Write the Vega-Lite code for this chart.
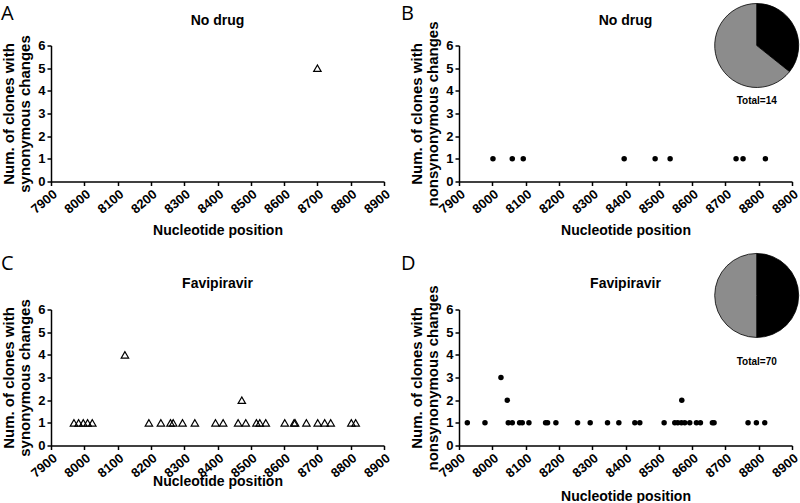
{
  "$schema": "https://vega.github.io/schema/vega-lite/v6.json",
  "background": "white",
  "padding": {"left": 1, "top": 1.5, "right": 0, "bottom": 0},
  "datasets": {
    "syn_nodrug": [{"position": 8700, "clones": 5}],
    "nonsyn_nodrug": [
      {"position": 8002, "clones": 1}, {"position": 8060, "clones": 1}, {"position": 8093, "clones": 1},
      {"position": 8396, "clones": 1}, {"position": 8489, "clones": 1}, {"position": 8534, "clones": 1},
      {"position": 8732, "clones": 1}, {"position": 8753, "clones": 1}, {"position": 8820, "clones": 1}
    ],
    "syn_fav": [
      {"position": 7969, "clones": 1}, {"position": 7983, "clones": 1}, {"position": 7997, "clones": 1},
      {"position": 8010, "clones": 1}, {"position": 8024, "clones": 1}, {"position": 8122, "clones": 4},
      {"position": 8194, "clones": 1}, {"position": 8230, "clones": 1}, {"position": 8259, "clones": 1},
      {"position": 8267, "clones": 1}, {"position": 8295, "clones": 1}, {"position": 8332, "clones": 1},
      {"position": 8394, "clones": 1}, {"position": 8417, "clones": 1}, {"position": 8462, "clones": 1},
      {"position": 8473, "clones": 2}, {"position": 8485, "clones": 1}, {"position": 8517, "clones": 1},
      {"position": 8527, "clones": 1}, {"position": 8545, "clones": 1}, {"position": 8602, "clones": 1},
      {"position": 8630, "clones": 1}, {"position": 8633, "clones": 1}, {"position": 8667, "clones": 1},
      {"position": 8701, "clones": 1}, {"position": 8722, "clones": 1}, {"position": 8740, "clones": 1},
      {"position": 8802, "clones": 1}, {"position": 8815, "clones": 1}
    ],
    "nonsyn_fav": [
      {"position": 7925, "clones": 1}, {"position": 7978, "clones": 1}, {"position": 8026, "clones": 3},
      {"position": 8045, "clones": 2}, {"position": 8048, "clones": 1}, {"position": 8060, "clones": 1},
      {"position": 8082, "clones": 1}, {"position": 8090, "clones": 1}, {"position": 8110, "clones": 1},
      {"position": 8160, "clones": 1}, {"position": 8166, "clones": 1}, {"position": 8191, "clones": 1},
      {"position": 8256, "clones": 1}, {"position": 8294, "clones": 1}, {"position": 8346, "clones": 1},
      {"position": 8380, "clones": 1}, {"position": 8428, "clones": 1}, {"position": 8443, "clones": 1},
      {"position": 8516, "clones": 1}, {"position": 8548, "clones": 1}, {"position": 8557, "clones": 1},
      {"position": 8568, "clones": 1}, {"position": 8569, "clones": 2}, {"position": 8578, "clones": 1},
      {"position": 8593, "clones": 1}, {"position": 8613, "clones": 1}, {"position": 8625, "clones": 1},
      {"position": 8661, "clones": 1}, {"position": 8666, "clones": 1}, {"position": 8768, "clones": 1},
      {"position": 8793, "clones": 1}, {"position": 8818, "clones": 1}
    ],
    "pie_nodrug": [{"kind": "Synonymous", "count": 5, "idx": 1}, {"kind": "Nonsynonymous", "count": 9, "idx": 2}],
    "pie_fav": [{"kind": "Synonymous", "count": 35, "idx": 1}, {"kind": "Nonsynonymous", "count": 35, "idx": 2}]
  },
  "concat": [
    {
      "width": 333, "height": 136,
      "layer": [
        {
          "data": {"name": "syn_nodrug"},
          "mark": {"type": "point", "shape": "triangle-up", "filled": false, "stroke": "black", "strokeWidth": 1.2, "size": 55, "opacity": 1},
          "encoding": {
            "x": {"field": "position", "type": "quantitative", "scale": {"domain": [7900, 8900], "nice": false},
                  "axis": {"values": [7900, 8000, 8100, 8200, 8300, 8400, 8500, 8600, 8700, 8800, 8900], "format": "d", "labelAngle": -40, "labelOverlap": false, "labelFlush": false, "labelFontSize": 13, "labelFontWeight": "bold", "labelColor": "black", "labelPadding": 2, "grid": false, "domainColor": "black", "domainWidth": 1.5, "tickColor": "black", "tickWidth": 1.5, "tickSize": 4, "title": "Nucleotide position", "titleFontSize": 14, "titleFontWeight": "bold", "titleColor": "black", "titlePadding": 7}},
            "y": {"field": "clones", "type": "quantitative", "scale": {"domain": [0, 6], "nice": false},
                  "axis": {"values": [0, 1, 2, 3, 4, 5, 6], "format": "d", "labelOverlap": false, "labelFlush": false, "labelFontSize": 13, "labelFontWeight": "bold", "labelColor": "black", "labelPadding": 2, "grid": false, "domainColor": "black", "domainWidth": 1.5, "tickColor": "black", "tickWidth": 1.5, "tickSize": 4, "title": ["Num. of clones with", "synonymous changes"], "titleFontSize": 15, "titleFontWeight": "bold", "titleColor": "black", "titlePadding": 5, "titleLineHeight": 16}}
          }
        },
        {
          "data": {"values": [{"t": "No drug"}]},
          "mark": {"type": "text", "fontWeight": "bold", "fontSize": 14, "font": "Liberation Sans", "baseline": "middle"},
          "encoding": {"text": {"field": "t"},
            "x": {"datum": 8400, "axis": {"values": [7900, 8000, 8100, 8200, 8300, 8400, 8500, 8600, 8700, 8800, 8900], "format": "d", "labelAngle": -40, "labelOverlap": false, "labelFlush": false, "labelFontSize": 13, "labelFontWeight": "bold", "labelColor": "black", "labelPadding": 2, "grid": false, "domainColor": "black", "domainWidth": 1.5, "tickColor": "black", "tickWidth": 1.5, "tickSize": 4, "title": "Nucleotide position", "titleFontSize": 14, "titleFontWeight": "bold", "titleColor": "black", "titlePadding": 7}},
            "y": {"datum": 7.06, "axis": {"values": [0, 1, 2, 3, 4, 5, 6], "format": "d", "labelOverlap": false, "labelFlush": false, "labelFontSize": 13, "labelFontWeight": "bold", "labelColor": "black", "labelPadding": 2, "grid": false, "domainColor": "black", "domainWidth": 1.5, "tickColor": "black", "tickWidth": 1.5, "tickSize": 4, "title": ["Num. of clones with", "synonymous changes"], "titleFontSize": 15, "titleFontWeight": "bold", "titleColor": "black", "titlePadding": 5, "titleLineHeight": 16}}}
        },
        {
          "data": {"values": [{"t": "A"}]},
          "mark": {"type": "text", "fontSize": 20, "font": "Open Sans", "align": "left", "baseline": "middle"},
          "encoding": {"text": {"field": "t"},
            "x": {"datum": 7750, "axis": {"values": [7900, 8000, 8100, 8200, 8300, 8400, 8500, 8600, 8700, 8800, 8900], "format": "d", "labelAngle": -40, "labelOverlap": false, "labelFlush": false, "labelFontSize": 13, "labelFontWeight": "bold", "labelColor": "black", "labelPadding": 2, "grid": false, "domainColor": "black", "domainWidth": 1.5, "tickColor": "black", "tickWidth": 1.5, "tickSize": 4, "title": "Nucleotide position", "titleFontSize": 14, "titleFontWeight": "bold", "titleColor": "black", "titlePadding": 7}},
            "y": {"datum": 7.41, "axis": {"values": [0, 1, 2, 3, 4, 5, 6], "format": "d", "labelOverlap": false, "labelFlush": false, "labelFontSize": 13, "labelFontWeight": "bold", "labelColor": "black", "labelPadding": 2, "grid": false, "domainColor": "black", "domainWidth": 1.5, "tickColor": "black", "tickWidth": 1.5, "tickSize": 4, "title": ["Num. of clones with", "synonymous changes"], "titleFontSize": 15, "titleFontWeight": "bold", "titleColor": "black", "titlePadding": 5, "titleLineHeight": 16}}}
        }
      ]
    },
    {
      "width": 333, "height": 136,
      "layer": [
        {
          "data": {"name": "nonsyn_nodrug"},
          "mark": {"type": "point", "shape": "circle", "filled": true, "color": "black", "size": 30, "opacity": 1},
          "encoding": {
            "x": {"field": "position", "type": "quantitative", "scale": {"domain": [7900, 8900], "nice": false},
                  "axis": {"values": [7900, 8000, 8100, 8200, 8300, 8400, 8500, 8600, 8700, 8800, 8900], "format": "d", "labelAngle": -40, "labelOverlap": false, "labelFlush": false, "labelFontSize": 13, "labelFontWeight": "bold", "labelColor": "black", "labelPadding": 2, "grid": false, "domainColor": "black", "domainWidth": 1.5, "tickColor": "black", "tickWidth": 1.5, "tickSize": 4, "title": "Nucleotide position", "titleFontSize": 14, "titleFontWeight": "bold", "titleColor": "black", "titlePadding": 7}},
            "y": {"field": "clones", "type": "quantitative", "scale": {"domain": [0, 6], "nice": false},
                  "axis": {"values": [0, 1, 2, 3, 4, 5, 6], "format": "d", "labelOverlap": false, "labelFlush": false, "labelFontSize": 13, "labelFontWeight": "bold", "labelColor": "black", "labelPadding": 2, "grid": false, "domainColor": "black", "domainWidth": 1.5, "tickColor": "black", "tickWidth": 1.5, "tickSize": 4, "title": ["Num. of clones with", "nonsynonymous changes"], "titleFontSize": 15, "titleFontWeight": "bold", "titleColor": "black", "titlePadding": 5, "titleLineHeight": 16}}
          }
        },
        {
          "data": {"name": "pie_nodrug"},
          "mark": {"type": "arc", "outerRadius": 42, "stroke": "black", "strokeWidth": 0.8},
          "encoding": {
            "theta": {"field": "count", "type": "quantitative", "stack": true},
            "order": {"field": "idx", "type": "quantitative"},
            "color": {"field": "kind", "type": "nominal", "scale": {"domain": ["Synonymous", "Nonsynonymous"], "range": ["#000000", "#8c8c8c"]}, "legend": null},
            "x": {"datum": 8794, "axis": {"values": [7900, 8000, 8100, 8200, 8300, 8400, 8500, 8600, 8700, 8800, 8900], "format": "d", "labelAngle": -40, "labelOverlap": false, "labelFlush": false, "labelFontSize": 13, "labelFontWeight": "bold", "labelColor": "black", "labelPadding": 2, "grid": false, "domainColor": "black", "domainWidth": 1.5, "tickColor": "black", "tickWidth": 1.5, "tickSize": 4, "title": "Nucleotide position", "titleFontSize": 14, "titleFontWeight": "bold", "titleColor": "black", "titlePadding": 7}},
            "y": {"datum": 6, "axis": {"values": [0, 1, 2, 3, 4, 5, 6], "format": "d", "labelOverlap": false, "labelFlush": false, "labelFontSize": 13, "labelFontWeight": "bold", "labelColor": "black", "labelPadding": 2, "grid": false, "domainColor": "black", "domainWidth": 1.5, "tickColor": "black", "tickWidth": 1.5, "tickSize": 4, "title": ["Num. of clones with", "nonsynonymous changes"], "titleFontSize": 15, "titleFontWeight": "bold", "titleColor": "black", "titlePadding": 5, "titleLineHeight": 16}}
          }
        },
        {
          "data": {"values": [{"t": "Total=14"}]},
          "mark": {"type": "text", "fontWeight": "bold", "fontSize": 10, "font": "Liberation Sans", "baseline": "middle"},
          "encoding": {"text": {"field": "t"},
            "x": {"datum": 8794, "axis": {"values": [7900, 8000, 8100, 8200, 8300, 8400, 8500, 8600, 8700, 8800, 8900], "format": "d", "labelAngle": -40, "labelOverlap": false, "labelFlush": false, "labelFontSize": 13, "labelFontWeight": "bold", "labelColor": "black", "labelPadding": 2, "grid": false, "domainColor": "black", "domainWidth": 1.5, "tickColor": "black", "tickWidth": 1.5, "tickSize": 4, "title": "Nucleotide position", "titleFontSize": 14, "titleFontWeight": "bold", "titleColor": "black", "titlePadding": 7}},
            "y": {"datum": 3.53, "axis": {"values": [0, 1, 2, 3, 4, 5, 6], "format": "d", "labelOverlap": false, "labelFlush": false, "labelFontSize": 13, "labelFontWeight": "bold", "labelColor": "black", "labelPadding": 2, "grid": false, "domainColor": "black", "domainWidth": 1.5, "tickColor": "black", "tickWidth": 1.5, "tickSize": 4, "title": ["Num. of clones with", "nonsynonymous changes"], "titleFontSize": 15, "titleFontWeight": "bold", "titleColor": "black", "titlePadding": 5, "titleLineHeight": 16}}}
        },
        {
          "data": {"values": [{"t": "No drug"}]},
          "mark": {"type": "text", "fontWeight": "bold", "fontSize": 14, "font": "Liberation Sans", "baseline": "middle"},
          "encoding": {"text": {"field": "t"},
            "x": {"datum": 8400, "axis": {"values": [7900, 8000, 8100, 8200, 8300, 8400, 8500, 8600, 8700, 8800, 8900], "format": "d", "labelAngle": -40, "labelOverlap": false, "labelFlush": false, "labelFontSize": 13, "labelFontWeight": "bold", "labelColor": "black", "labelPadding": 2, "grid": false, "domainColor": "black", "domainWidth": 1.5, "tickColor": "black", "tickWidth": 1.5, "tickSize": 4, "title": "Nucleotide position", "titleFontSize": 14, "titleFontWeight": "bold", "titleColor": "black", "titlePadding": 7}},
            "y": {"datum": 7.06, "axis": {"values": [0, 1, 2, 3, 4, 5, 6], "format": "d", "labelOverlap": false, "labelFlush": false, "labelFontSize": 13, "labelFontWeight": "bold", "labelColor": "black", "labelPadding": 2, "grid": false, "domainColor": "black", "domainWidth": 1.5, "tickColor": "black", "tickWidth": 1.5, "tickSize": 4, "title": ["Num. of clones with", "nonsynonymous changes"], "titleFontSize": 15, "titleFontWeight": "bold", "titleColor": "black", "titlePadding": 5, "titleLineHeight": 16}}}
        },
        {
          "data": {"values": [{"t": "B"}]},
          "mark": {"type": "text", "fontSize": 20, "font": "Open Sans", "align": "left", "baseline": "middle"},
          "encoding": {"text": {"field": "t"},
            "x": {"datum": 7726, "axis": {"values": [7900, 8000, 8100, 8200, 8300, 8400, 8500, 8600, 8700, 8800, 8900], "format": "d", "labelAngle": -40, "labelOverlap": false, "labelFlush": false, "labelFontSize": 13, "labelFontWeight": "bold", "labelColor": "black", "labelPadding": 2, "grid": false, "domainColor": "black", "domainWidth": 1.5, "tickColor": "black", "tickWidth": 1.5, "tickSize": 4, "title": "Nucleotide position", "titleFontSize": 14, "titleFontWeight": "bold", "titleColor": "black", "titlePadding": 7}},
            "y": {"datum": 7.41, "axis": {"values": [0, 1, 2, 3, 4, 5, 6], "format": "d", "labelOverlap": false, "labelFlush": false, "labelFontSize": 13, "labelFontWeight": "bold", "labelColor": "black", "labelPadding": 2, "grid": false, "domainColor": "black", "domainWidth": 1.5, "tickColor": "black", "tickWidth": 1.5, "tickSize": 4, "title": ["Num. of clones with", "nonsynonymous changes"], "titleFontSize": 15, "titleFontWeight": "bold", "titleColor": "black", "titlePadding": 5, "titleLineHeight": 16}}}
        }
      ]
    },
    {
      "width": 333, "height": 136,
      "layer": [
        {
          "data": {"name": "syn_fav"},
          "mark": {"type": "point", "shape": "triangle-up", "filled": false, "stroke": "black", "strokeWidth": 1.2, "size": 55, "opacity": 1},
          "encoding": {
            "x": {"field": "position", "type": "quantitative", "scale": {"domain": [7900, 8900], "nice": false},
                  "axis": {"values": [7900, 8000, 8100, 8200, 8300, 8400, 8500, 8600, 8700, 8800, 8900], "format": "d", "labelAngle": -40, "labelOverlap": false, "labelFlush": false, "labelFontSize": 13, "labelFontWeight": "bold", "labelColor": "black", "labelPadding": 2, "grid": false, "domainColor": "black", "domainWidth": 1.5, "tickColor": "black", "tickWidth": 1.5, "tickSize": 4, "title": "Nucleotide position", "titleFontSize": 14, "titleFontWeight": "bold", "titleColor": "black", "titlePadding": -6}},
            "y": {"field": "clones", "type": "quantitative", "scale": {"domain": [0, 6], "nice": false},
                  "axis": {"values": [0, 1, 2, 3, 4, 5, 6], "format": "d", "labelOverlap": false, "labelFlush": false, "labelFontSize": 13, "labelFontWeight": "bold", "labelColor": "black", "labelPadding": 2, "grid": false, "domainColor": "black", "domainWidth": 1.5, "tickColor": "black", "tickWidth": 1.5, "tickSize": 4, "title": ["Num. of clones with", "synonymous changes"], "titleFontSize": 15, "titleFontWeight": "bold", "titleColor": "black", "titlePadding": 5, "titleLineHeight": 16}}
          }
        },
        {
          "data": {"values": [{"t": "Favipiravir"}]},
          "mark": {"type": "text", "fontWeight": "bold", "fontSize": 14, "font": "Liberation Sans", "baseline": "middle"},
          "encoding": {"text": {"field": "t"},
            "x": {"datum": 8400, "axis": {"values": [7900, 8000, 8100, 8200, 8300, 8400, 8500, 8600, 8700, 8800, 8900], "format": "d", "labelAngle": -40, "labelOverlap": false, "labelFlush": false, "labelFontSize": 13, "labelFontWeight": "bold", "labelColor": "black", "labelPadding": 2, "grid": false, "domainColor": "black", "domainWidth": 1.5, "tickColor": "black", "tickWidth": 1.5, "tickSize": 4, "title": "Nucleotide position", "titleFontSize": 14, "titleFontWeight": "bold", "titleColor": "black", "titlePadding": -6}},
            "y": {"datum": 7.11, "axis": {"values": [0, 1, 2, 3, 4, 5, 6], "format": "d", "labelOverlap": false, "labelFlush": false, "labelFontSize": 13, "labelFontWeight": "bold", "labelColor": "black", "labelPadding": 2, "grid": false, "domainColor": "black", "domainWidth": 1.5, "tickColor": "black", "tickWidth": 1.5, "tickSize": 4, "title": ["Num. of clones with", "synonymous changes"], "titleFontSize": 15, "titleFontWeight": "bold", "titleColor": "black", "titlePadding": 5, "titleLineHeight": 16}}}
        },
        {
          "data": {"values": [{"t": "C"}]},
          "mark": {"type": "text", "fontSize": 20, "font": "Open Sans", "align": "left", "baseline": "middle"},
          "encoding": {"text": {"field": "t"},
            "x": {"datum": 7750, "axis": {"values": [7900, 8000, 8100, 8200, 8300, 8400, 8500, 8600, 8700, 8800, 8900], "format": "d", "labelAngle": -40, "labelOverlap": false, "labelFlush": false, "labelFontSize": 13, "labelFontWeight": "bold", "labelColor": "black", "labelPadding": 2, "grid": false, "domainColor": "black", "domainWidth": 1.5, "tickColor": "black", "tickWidth": 1.5, "tickSize": 4, "title": "Nucleotide position", "titleFontSize": 14, "titleFontWeight": "bold", "titleColor": "black", "titlePadding": -6}},
            "y": {"datum": 8.0, "axis": {"values": [0, 1, 2, 3, 4, 5, 6], "format": "d", "labelOverlap": false, "labelFlush": false, "labelFontSize": 13, "labelFontWeight": "bold", "labelColor": "black", "labelPadding": 2, "grid": false, "domainColor": "black", "domainWidth": 1.5, "tickColor": "black", "tickWidth": 1.5, "tickSize": 4, "title": ["Num. of clones with", "synonymous changes"], "titleFontSize": 15, "titleFontWeight": "bold", "titleColor": "black", "titlePadding": 5, "titleLineHeight": 16}}}
        }
      ]
    },
    {
      "width": 333, "height": 136,
      "layer": [
        {
          "data": {"name": "nonsyn_fav"},
          "mark": {"type": "point", "shape": "circle", "filled": true, "color": "black", "size": 30, "opacity": 1},
          "encoding": {
            "x": {"field": "position", "type": "quantitative", "scale": {"domain": [7900, 8900], "nice": false},
                  "axis": {"values": [7900, 8000, 8100, 8200, 8300, 8400, 8500, 8600, 8700, 8800, 8900], "format": "d", "labelAngle": -40, "labelOverlap": false, "labelFlush": false, "labelFontSize": 13, "labelFontWeight": "bold", "labelColor": "black", "labelPadding": 2, "grid": false, "domainColor": "black", "domainWidth": 1.5, "tickColor": "black", "tickWidth": 1.5, "tickSize": 4, "title": "Nucleotide position", "titleFontSize": 14, "titleFontWeight": "bold", "titleColor": "black", "titlePadding": 9}},
            "y": {"field": "clones", "type": "quantitative", "scale": {"domain": [0, 6], "nice": false},
                  "axis": {"values": [0, 1, 2, 3, 4, 5, 6], "format": "d", "labelOverlap": false, "labelFlush": false, "labelFontSize": 13, "labelFontWeight": "bold", "labelColor": "black", "labelPadding": 2, "grid": false, "domainColor": "black", "domainWidth": 1.5, "tickColor": "black", "tickWidth": 1.5, "tickSize": 4, "title": ["Num. of clones with", "nonsynonymous changes"], "titleFontSize": 15, "titleFontWeight": "bold", "titleColor": "black", "titlePadding": 5, "titleLineHeight": 16}}
          }
        },
        {
          "data": {"name": "pie_fav"},
          "mark": {"type": "arc", "outerRadius": 42, "stroke": "black", "strokeWidth": 0.8},
          "encoding": {
            "theta": {"field": "count", "type": "quantitative", "stack": true},
            "order": {"field": "idx", "type": "quantitative"},
            "color": {"field": "kind", "type": "nominal", "scale": {"domain": ["Synonymous", "Nonsynonymous"], "range": ["#000000", "#8c8c8c"]}, "legend": null},
            "x": {"datum": 8794, "axis": {"values": [7900, 8000, 8100, 8200, 8300, 8400, 8500, 8600, 8700, 8800, 8900], "format": "d", "labelAngle": -40, "labelOverlap": false, "labelFlush": false, "labelFontSize": 13, "labelFontWeight": "bold", "labelColor": "black", "labelPadding": 2, "grid": false, "domainColor": "black", "domainWidth": 1.5, "tickColor": "black", "tickWidth": 1.5, "tickSize": 4, "title": "Nucleotide position", "titleFontSize": 14, "titleFontWeight": "bold", "titleColor": "black", "titlePadding": 9}},
            "y": {"datum": 6.62, "axis": {"values": [0, 1, 2, 3, 4, 5, 6], "format": "d", "labelOverlap": false, "labelFlush": false, "labelFontSize": 13, "labelFontWeight": "bold", "labelColor": "black", "labelPadding": 2, "grid": false, "domainColor": "black", "domainWidth": 1.5, "tickColor": "black", "tickWidth": 1.5, "tickSize": 4, "title": ["Num. of clones with", "nonsynonymous changes"], "titleFontSize": 15, "titleFontWeight": "bold", "titleColor": "black", "titlePadding": 5, "titleLineHeight": 16}}
          }
        },
        {
          "data": {"values": [{"t": "Total=70"}]},
          "mark": {"type": "text", "fontWeight": "bold", "fontSize": 10, "font": "Liberation Sans", "baseline": "middle"},
          "encoding": {"text": {"field": "t"},
            "x": {"datum": 8794, "axis": {"values": [7900, 8000, 8100, 8200, 8300, 8400, 8500, 8600, 8700, 8800, 8900], "format": "d", "labelAngle": -40, "labelOverlap": false, "labelFlush": false, "labelFontSize": 13, "labelFontWeight": "bold", "labelColor": "black", "labelPadding": 2, "grid": false, "domainColor": "black", "domainWidth": 1.5, "tickColor": "black", "tickWidth": 1.5, "tickSize": 4, "title": "Nucleotide position", "titleFontSize": 14, "titleFontWeight": "bold", "titleColor": "black", "titlePadding": 9}},
            "y": {"datum": 3.69, "axis": {"values": [0, 1, 2, 3, 4, 5, 6], "format": "d", "labelOverlap": false, "labelFlush": false, "labelFontSize": 13, "labelFontWeight": "bold", "labelColor": "black", "labelPadding": 2, "grid": false, "domainColor": "black", "domainWidth": 1.5, "tickColor": "black", "tickWidth": 1.5, "tickSize": 4, "title": ["Num. of clones with", "nonsynonymous changes"], "titleFontSize": 15, "titleFontWeight": "bold", "titleColor": "black", "titlePadding": 5, "titleLineHeight": 16}}}
        },
        {
          "data": {"values": [{"t": "Favipiravir"}]},
          "mark": {"type": "text", "fontWeight": "bold", "fontSize": 14, "font": "Liberation Sans", "baseline": "middle"},
          "encoding": {"text": {"field": "t"},
            "x": {"datum": 8400, "axis": {"values": [7900, 8000, 8100, 8200, 8300, 8400, 8500, 8600, 8700, 8800, 8900], "format": "d", "labelAngle": -40, "labelOverlap": false, "labelFlush": false, "labelFontSize": 13, "labelFontWeight": "bold", "labelColor": "black", "labelPadding": 2, "grid": false, "domainColor": "black", "domainWidth": 1.5, "tickColor": "black", "tickWidth": 1.5, "tickSize": 4, "title": "Nucleotide position", "titleFontSize": 14, "titleFontWeight": "bold", "titleColor": "black", "titlePadding": 9}},
            "y": {"datum": 7.11, "axis": {"values": [0, 1, 2, 3, 4, 5, 6], "format": "d", "labelOverlap": false, "labelFlush": false, "labelFontSize": 13, "labelFontWeight": "bold", "labelColor": "black", "labelPadding": 2, "grid": false, "domainColor": "black", "domainWidth": 1.5, "tickColor": "black", "tickWidth": 1.5, "tickSize": 4, "title": ["Num. of clones with", "nonsynonymous changes"], "titleFontSize": 15, "titleFontWeight": "bold", "titleColor": "black", "titlePadding": 5, "titleLineHeight": 16}}}
        },
        {
          "data": {"values": [{"t": "D"}]},
          "mark": {"type": "text", "fontSize": 20, "font": "Open Sans", "align": "left", "baseline": "middle"},
          "encoding": {"text": {"field": "t"},
            "x": {"datum": 7726, "axis": {"values": [7900, 8000, 8100, 8200, 8300, 8400, 8500, 8600, 8700, 8800, 8900], "format": "d", "labelAngle": -40, "labelOverlap": false, "labelFlush": false, "labelFontSize": 13, "labelFontWeight": "bold", "labelColor": "black", "labelPadding": 2, "grid": false, "domainColor": "black", "domainWidth": 1.5, "tickColor": "black", "tickWidth": 1.5, "tickSize": 4, "title": "Nucleotide position", "titleFontSize": 14, "titleFontWeight": "bold", "titleColor": "black", "titlePadding": 9}},
            "y": {"datum": 8.0, "axis": {"values": [0, 1, 2, 3, 4, 5, 6], "format": "d", "labelOverlap": false, "labelFlush": false, "labelFontSize": 13, "labelFontWeight": "bold", "labelColor": "black", "labelPadding": 2, "grid": false, "domainColor": "black", "domainWidth": 1.5, "tickColor": "black", "tickWidth": 1.5, "tickSize": 4, "title": ["Num. of clones with", "nonsynonymous changes"], "titleFontSize": 15, "titleFontWeight": "bold", "titleColor": "black", "titlePadding": 5, "titleLineHeight": 16}}}
        }
      ]
    }
  ],
  "columns": 2,
  "spacing": {"row": 128, "column": 75},
  "bounds": "flush",
  "config": {
    "view": {"stroke": null},
    "font": "Liberation Sans",
    "axis": {"labelFont": "Liberation Sans", "titleFont": "Liberation Sans", "labelFontSize": 13, "labelFontWeight": "bold", "labelColor": "black", "domainColor": "black", "tickColor": "black"},
    "style": {"guide-label": {"fontSize": 13, "fontWeight": "bold", "fill": "black", "font": "Liberation Sans"}}
  }
}
